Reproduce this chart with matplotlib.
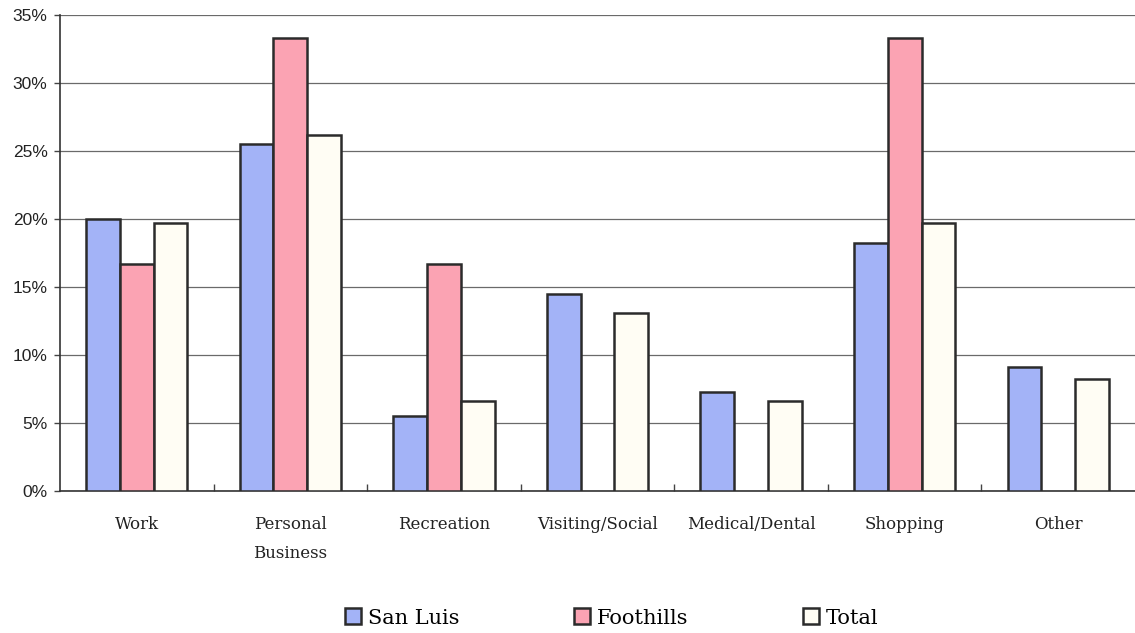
import matplotlib.pyplot as plt
import numpy as np
from matplotlib.ticker import PercentFormatter

# Trip purpose shares (%) by area
categories = ["Work", "Personal\nBusiness", "Recreation", "Visiting/Social",
              "Medical/Dental", "Shopping", "Other"]
san_luis = [20.0, 25.5, 5.5, 14.5, 7.3, 18.2, 9.1]
foothills = [16.7, 33.3, 16.7, 0.0, 0.0, 33.3, 0.0]
total = [19.7, 26.2, 6.6, 13.1, 6.6, 19.7, 8.2]

series_names = ["San Luis", "Foothills", "Total"]
series_colors = ["#a3b3f7", "#fba3b3", "#fffdf4"]

fig = plt.figure(figsize=(11.35, 6.33), dpi=100)
ax = fig.add_axes([60 / 1135, 142 / 633, 1075 / 1135, 476 / 633])

x = np.arange(len(categories))
width = 0.22
handles = []
for i, (vals, name, color) in enumerate(zip([san_luis, foothills, total], series_names, series_colors)):
    vals = np.array(vals)
    # skip zero-height bars so no outline is drawn along the axis
    mask = vals > 0
    bars = ax.bar(x[mask] + (i - 1) * width, vals[mask], width,
                  color=color, edgecolor="#2b2b2b", linewidth=1.8, label=name, zorder=3)
    handles.append(bars)

ax.set_xlim(-0.5, len(categories) - 0.5)
ax.set_ylim(0, 35)
ax.set_yticks(np.arange(0, 36, 5))
ax.yaxis.set_major_formatter(PercentFormatter(decimals=0))
ax.grid(axis="y", color="#6a6a6a", linewidth=0.9, zorder=0)

for side in ["top", "right"]:
    ax.spines[side].set_visible(False)
ax.spines["left"].set_color("#333333")
ax.spines["bottom"].set_color("#333333")
ax.spines["left"].set_linewidth(1.2)
ax.spines["bottom"].set_linewidth(1.2)

ax.tick_params(axis="y", direction="out", length=4, width=1, color="#444444",
               labelsize=12.5, pad=5, labelcolor="#222222")
for lbl in ax.get_yticklabels():
    lbl.set_family("Liberation Sans")

ax.set_xticks(x)
ax.set_xticklabels(categories, family="DejaVu Serif", fontsize=12, linespacing=1.9,
                   color="#222222")
ax.set_xticks(np.arange(0.5, len(categories) - 1, 1), minor=True)
ax.tick_params(axis="x", which="major", length=0, pad=18)
ax.tick_params(axis="x", which="minor", direction="in", length=5, width=1, color="#444444")

fig.legend(handles=handles, labels=series_names, loc="center", bbox_to_anchor=(612 / 1135, 15 / 633),
           ncol=3, frameon=False, handlelength=0.77, handleheight=0.77, handletextpad=0.33,
           columnspacing=5.5, prop={"family": "DejaVu Serif", "size": 15})

fig.savefig("out.png", dpi=100, facecolor="white")
